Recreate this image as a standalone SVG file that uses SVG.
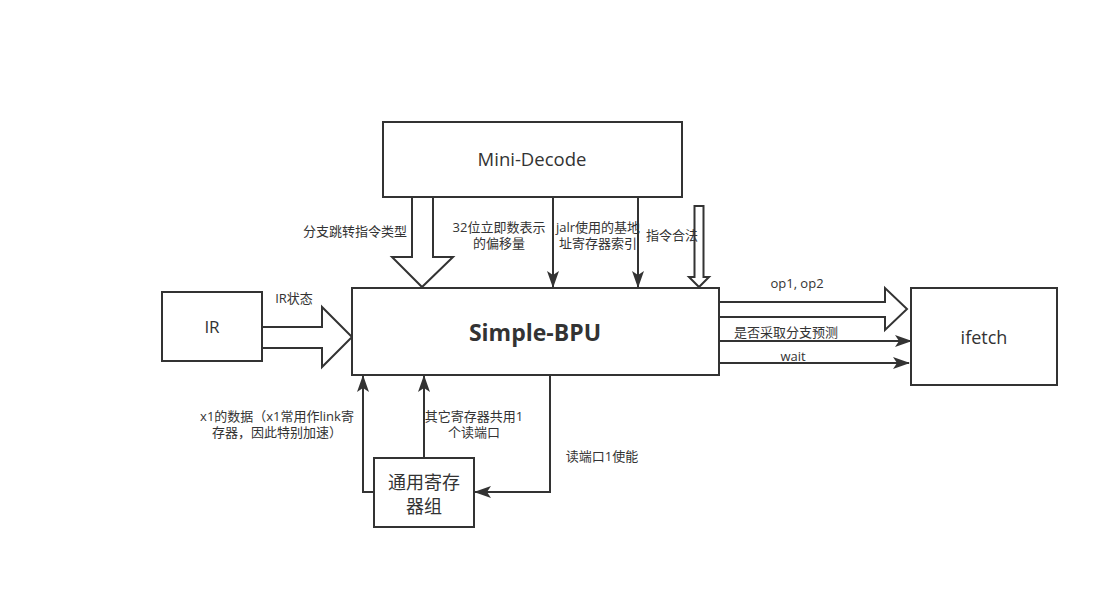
<svg xmlns="http://www.w3.org/2000/svg" width="1118" height="589" viewBox="0 0 1118 589">
<defs>
<marker id="arr" markerUnits="userSpaceOnUse" markerWidth="17" markerHeight="12" viewBox="0 0 17 12" refX="16" refY="6" orient="auto">
<path d="M0,0 L17,6 L0,12 L4,6 Z" fill="#333"/>
</marker>
<style>
.box{fill:#fff;stroke:#333;stroke-width:2}
.ln{fill:none;stroke:#333;stroke-width:2}
.big{fill:#fff;stroke:#333;stroke-width:2;stroke-linejoin:miter}
.t{font-family:"Open Sans","Noto Sans CJK SC",sans-serif;fill:#333}
.lbl{font-family:"Open Sans","Noto Sans CJK SC",sans-serif;font-size:13px;fill:#333}
</style>
</defs>
<rect width="1118" height="589" fill="#fff"/>
<g id="connectors">
<path class="big" d="M412,197 L412,257 L392,257 L422,287 L453,257 L433,257 L433,197"/>
<line class="ln" x1="553" y1="197" x2="553" y2="287" marker-end="url(#arr)"/>
<line class="ln" x1="638" y1="197" x2="638" y2="287" marker-end="url(#arr)"/>
<path class="big" d="M694.5,206 L703.5,206 L703.5,277 L709,277 L699,287 L689,277 L694.5,277 Z"/>
<path class="big" d="M262,327 L322,327 L322,307 L352,337 L322,367 L322,348 L262,348"/>
<path class="big" d="M719,302 L885,302 L885,288 L907,309 L885,330 L885,317 L719,317"/>
<line class="ln" x1="719" y1="341" x2="911" y2="341" marker-end="url(#arr)"/>
<line class="ln" x1="719" y1="363" x2="909" y2="363" marker-end="url(#arr)"/>
<polyline class="ln" points="374,492 363,492 363,376" marker-end="url(#arr)"/>
<line class="ln" x1="424" y1="458" x2="424" y2="376" marker-end="url(#arr)"/>
<polyline class="ln" points="550,376 550,492 475,492" marker-end="url(#arr)"/>
</g>
<g id="mini-decode">
<rect class="box" x="383" y="122" width="299" height="75"/>
<text class="t" x="532" y="166" font-size="18.5" text-anchor="middle">Mini-Decode</text>
</g>
<g id="simple-bpu">
<rect class="box" x="352" y="288" width="367" height="87"/>
<text class="t" x="535" y="341" font-size="23" font-weight="bold" text-anchor="middle">Simple-BPU</text>
</g>
<g id="ir">
<rect class="box" x="162" y="292" width="100" height="69"/>
<text class="t" x="212" y="333" font-size="17" text-anchor="middle">IR</text>
</g>
<g id="ifetch">
<rect class="box" x="911" y="288" width="146" height="97"/>
<text class="t" x="984" y="344" font-size="18" text-anchor="middle">ifetch</text>
</g>
<g id="regfile">
<rect class="box" x="374" y="458" width="100" height="69"/>
<text class="t" x="424" y="489" font-size="18" text-anchor="middle">通用寄存</text>
<text class="t" x="424" y="513" font-size="18" text-anchor="middle">器组</text>
</g>
<g id="labels">
<text class="lbl" x="355" y="236" text-anchor="middle">分支跳转指令类型</text>
<text class="lbl" x="499" y="232" text-anchor="middle">32位立即数表示</text>
<text class="lbl" x="499" y="248" text-anchor="middle">的偏移量</text>
<text class="lbl" x="598" y="232" text-anchor="middle">jalr使用的基地</text>
<text class="lbl" x="598" y="248" text-anchor="middle">址寄存器索引</text>
<text class="lbl" x="672" y="240" text-anchor="middle">指令合法</text>
<text class="lbl" x="294" y="303" text-anchor="middle">IR状态</text>
<text class="lbl" x="797" y="288" text-anchor="middle">op1, op2</text>
<text class="lbl" x="786" y="337" text-anchor="middle">是否采取分支预测</text>
<text class="lbl" x="793" y="361" text-anchor="middle">wait</text>
<text class="lbl" x="277" y="421" text-anchor="middle">x1的数据（x1常用作link寄</text>
<text class="lbl" x="277" y="437" text-anchor="middle">存器，因此特别加速）</text>
<text class="lbl" x="474" y="421" text-anchor="middle">其它寄存器共用1</text>
<text class="lbl" x="474" y="437" text-anchor="middle">个读端口</text>
<text class="lbl" x="602" y="461" text-anchor="middle">读端口1使能</text>
</g>
</svg>
